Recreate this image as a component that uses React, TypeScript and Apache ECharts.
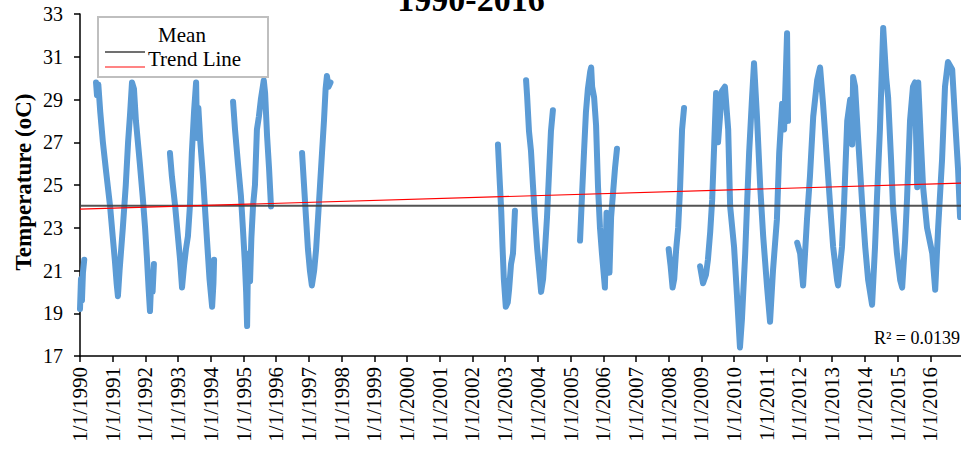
import React, { useEffect, useRef } from "react";
import * as echarts from "echarts";

// decimal year (1990.5 = mid-1990) and daily-ish temperature readings, null = no data
const years: number[] = [
  1990.0, 1990.03, 1990.06, 1990.09, 1990.13, 1990.3,
  1990.49, 1990.52, 1990.56, 1990.62, 1990.7, 1990.8, 1990.92, 1991.0, 1991.07, 1991.12, 1991.16, 1991.21,
  1991.31, 1991.4, 1991.47, 1991.53, 1991.59, 1991.65, 1991.71, 1991.83, 1991.92, 1991.99, 1992.05, 1992.1,
  1992.14, 1992.18, 1992.22, 1992.26, 1992.5,
  1992.75, 1992.81, 1992.91, 1993.0, 1993.06, 1993.12, 1993.18, 1993.24, 1993.3, 1993.36, 1993.42, 1993.49,
  1993.55, 1993.58, 1993.62, 1993.68, 1993.76, 1993.88, 1993.96, 1994.04, 1994.08, 1994.1, 1994.4,
  1994.68, 1994.74, 1994.83, 1994.92, 1994.98, 1995.04, 1995.08, 1995.11, 1995.14, 1995.2, 1995.24, 1995.29,
  1995.35, 1995.41, 1995.47, 1995.53, 1995.62, 1995.66, 1995.72, 1995.78, 1995.84, 1996.3,
  1996.79, 1996.85, 1996.91, 1996.97, 1997.03, 1997.09, 1997.16, 1997.22, 1997.28, 1997.34, 1997.4, 1997.46,
  1997.51, 1997.55, 1997.6, 1997.66, 2000.0,
  2002.78, 2002.84, 2002.88, 2002.92, 2002.96, 2003.02, 2003.08, 2003.12, 2003.18, 2003.24, 2003.3, 2003.45,
  2003.64, 2003.67, 2003.73, 2003.79, 2003.85, 2003.91, 2003.98, 2004.04, 2004.1, 2004.16, 2004.22, 2004.28,
  2004.34, 2004.4, 2004.46, 2004.9,
  2005.29, 2005.35, 2005.41, 2005.47, 2005.53, 2005.6, 2005.63, 2005.66, 2005.72, 2005.78, 2005.84, 2005.9,
  2005.96, 2006.05, 2006.1, 2006.13, 2006.19, 2006.24, 2006.36, 2006.42, 2007.0,
  2008.0, 2008.06, 2008.12, 2008.17, 2008.23, 2008.29, 2008.35, 2008.41, 2008.47, 2008.7,
  2008.96, 2009.05, 2009.14, 2009.2, 2009.27, 2009.33, 2009.39, 2009.45, 2009.51, 2009.63, 2009.72, 2009.82,
  2009.88, 2010.0, 2010.09, 2010.18, 2010.24, 2010.34, 2010.4, 2010.46, 2010.55, 2010.61, 2010.7, 2010.8,
  2010.89, 2011.01, 2011.1, 2011.19, 2011.31, 2011.38, 2011.47, 2011.53, 2011.62, 2011.65, 2011.8,
  2011.93, 2012.02, 2012.11, 2012.17, 2012.23, 2012.32, 2012.42, 2012.54, 2012.63, 2012.72, 2012.84, 2012.94,
  2013.03, 2013.15, 2013.18, 2013.3, 2013.36, 2013.46, 2013.55, 2013.61, 2013.64, 2013.7, 2013.79, 2013.91,
  2014.01, 2014.1, 2014.22, 2014.31, 2014.37, 2014.46, 2014.56, 2014.65, 2014.71, 2014.8, 2014.86, 2014.98,
  2015.08, 2015.14, 2015.23, 2015.29, 2015.38, 2015.47, 2015.53, 2015.6, 2015.63, 2015.72, 2015.78, 2015.9,
  2016.06, 2016.15, 2016.24, 2016.36, 2016.45, 2016.54, 2016.67, 2016.76, 2016.85, 2016.91,
];

const temps: (number | null)[] = [
  19.2, 20.6, 19.6, 20.9, 21.5, null,
  29.8, 29.2, 29.7, 28.4, 27.0, 25.6, 24.0, 22.6, 21.4, 20.4, 19.8, 21.0,
  23.0, 25.0, 27.0, 28.3, 29.8, 29.5, 28.0, 26.0, 24.4, 23.0, 21.5, 20.1,
  19.1, 20.6, 20.0, 21.3, null,
  26.5, 25.4, 24.0, 22.5, 21.5, 20.2, 21.2, 22.0, 22.6, 24.0, 26.5, 28.5,
  29.8, 27.2, 28.6, 27.0, 25.4, 22.5, 20.6, 19.3, 20.4, 21.5, null,
  28.9, 27.6, 26.0, 24.5, 23.0, 21.4, 20.0, 18.4, 21.8, 20.5, 22.5, 24.0,
  25.0, 27.6, 28.2, 29.0, 29.9, 29.3, 27.3, 25.8, 24.0, null,
  26.5, 25.0, 23.5, 22.0, 21.0, 20.3, 21.0, 22.0, 23.5, 25.0, 26.5, 28.0,
  29.5, 30.1, 29.6, 29.8, null,
  26.9, 25.0, 23.8, 22.1, 20.6, 19.3, 19.5, 20.1, 21.3, 21.8, 23.8, null,
  29.9, 29.2, 27.5, 26.6, 25.0, 23.5, 22.0, 21.0, 20.0, 20.6, 22.0, 23.5,
  25.5, 27.5, 28.5, null,
  22.4, 24.5, 26.5, 28.4, 29.5, 30.3, 30.5, 29.6, 29.1, 27.8, 24.9, 23.0,
  21.8, 20.2, 23.7, 21.8, 20.9, 23.5, 25.8, 26.7, null,
  22.0, 21.2, 20.2, 20.6, 22.0, 23.0, 24.9, 27.6, 28.6, null,
  21.2, 20.4, 20.8, 21.5, 22.8, 24.3, 26.8, 29.3, 27.0, 29.4, 29.6, 27.6,
  24.0, 22.1, 19.8, 17.4, 18.7, 21.8, 24.2, 26.5, 29.1, 30.7, 28.2, 24.9,
  22.6, 20.2, 18.6, 21.0, 23.4, 26.5, 28.8, 27.6, 32.1, 28.0, null,
  22.3, 21.8, 20.3, 21.8, 23.4, 25.4, 28.2, 29.9, 30.5, 28.8, 26.2, 24.0,
  22.1, 20.55, 20.3, 22.1, 24.0, 28.0, 29.0, 26.9, 30.05, 29.6, 27.25, 24.3,
  22.1, 20.55, 19.4, 22.1, 24.4, 27.6, 32.35, 30.05, 29.1, 26.2, 24.0, 21.8,
  20.55, 20.2, 22.4, 24.4, 28.0, 29.6, 29.8, 24.9, 29.8, 26.8, 24.9, 23.0,
  21.8, 20.1, 23.0, 26.2, 29.6, 30.75, 30.4, 28.0, 25.7, 23.5,
];

const meanValue = 24.03;
const trendYears = [1990, 2017];
const trendValues = [23.87, 25.09];
const yTicks = { min: 17, max: 33, step: 2 };
const xRange = { min: 1990, max: 2017 };
const titleText = "1990-2016";
const yTitle = "Temperature (oC)";
const legendNames = ["Mean", "Trend Line"];
const r2Text = "R² = 0.0139";

const SERIF = "'Liberation Serif', 'Times New Roman', serif";

export default function App() {
  const ref = useRef<HTMLDivElement>(null);
  useEffect(() => {
    if (!ref.current) return;
    const chart = echarts.init(ref.current, undefined, { renderer: "svg" });
    const tempData = years.map((y, i) => [y, temps[i] === null ? "-" : temps[i]]);
    chart.setOption({
      animation: false,
      backgroundColor: "#ffffff",
      grid: { left: 80, top: 14, width: 883, height: 342, containLabel: false, outerBoundsMode: "none" },
      xAxis: {
        type: "value",
        min: xRange.min,
        max: xRange.max,
        interval: 1,
        axisLine: { show: true, onZero: false, lineStyle: { color: "#000", width: 1.5 } },
        axisTick: { show: true, inside: false, length: 6, lineStyle: { color: "#000", width: 1.5 } },
        splitLine: { show: false },
        axisLabel: {
          rotate: 90,
          margin: 11,
          color: "#000",
          fontFamily: SERIF,
          fontSize: 21,
          showMaxLabel: false,
          formatter: (v: number) => (Math.round(v) >= xRange.max ? "" : `1/1/${Math.round(v)}`),
        },
      },
      yAxis: {
        type: "value",
        min: yTicks.min,
        max: yTicks.max,
        interval: yTicks.step,
        axisLine: { show: true, lineStyle: { color: "#000", width: 1.5 } },
        axisTick: { show: true, inside: false, length: 6, lineStyle: { color: "#000", width: 1.5 } },
        splitLine: { show: false },
        axisLabel: { margin: 17, color: "#000", fontFamily: SERIF, fontSize: 20 },
      },
      series: [
        {
          type: "line",
          data: tempData,
          showSymbol: false,
          symbol: "none",
          connectNulls: false,
          lineStyle: { color: "#5B9BD5", width: 6, cap: "round", join: "round" },
          z: 2,
        },
        {
          type: "line",
          data: [
            [xRange.min, meanValue],
            [xRange.max, meanValue],
          ],
          symbol: "none",
          lineStyle: { color: "#404040", width: 1.8, opacity: 0.9 },
          z: 3,
        },
        {
          type: "line",
          data: trendYears.map((y, i) => [y, trendValues[i]]),
          symbol: "none",
          lineStyle: { color: "#ff0000", width: 1.2 },
          z: 4,
        },
      ],
      graphic: [
        {
          type: "text",
          x: 471,
          y: -1,
          z: 100,
          style: {
            text: titleText,
            fill: "#000",
            font: `bold 34px ${SERIF}`,
            align: "center",
            verticalAlign: "middle",
          },
        },
        {
          type: "text",
          x: 23,
          y: 182,
          rotation: Math.PI / 2,
          z: 100,
          style: {
            text: yTitle,
            fill: "#000",
            font: `bold 23px ${SERIF}`,
            align: "center",
            verticalAlign: "middle",
          },
        },
        {
          type: "rect",
          z: 100,
          shape: { x: 98, y: 17, width: 170, height: 60 },
          style: { fill: "#ffffff", stroke: "#bfbfbf", lineWidth: 2 },
        },
        {
          type: "text",
          x: 182,
          y: 35,
          z: 101,
          style: {
            text: legendNames[0],
            fill: "#000",
            font: `21px ${SERIF}`,
            lineHeight: 20,
            align: "center",
            verticalAlign: "middle",
          },
        },
        {
          type: "line",
          z: 101,
          shape: { x1: 105, y1: 52, x2: 145, y2: 52 },
          style: { stroke: "#404040", lineWidth: 1.5 },
        },
        {
          type: "text",
          x: 148,
          y: 59,
          z: 101,
          style: {
            text: legendNames[1],
            fill: "#000",
            font: `21px ${SERIF}`,
            lineHeight: 20,
            align: "left",
            verticalAlign: "middle",
          },
        },
        {
          type: "line",
          z: 101,
          shape: { x1: 105, y1: 67, x2: 145, y2: 67 },
          style: { stroke: "#ff5b5b", lineWidth: 1.5 },
        },
        {
          type: "text",
          x: 960,
          y: 338,
          z: 100,
          style: { text: r2Text, fill: "#000", font: `18px ${SERIF}`, align: "right", verticalAlign: "middle" },
        },
      ],
    });
    return () => chart.dispose();
  }, []);
  return (
    <div
      ref={ref}
      style={{ position: "fixed", left: 0, top: 0, width: 961, height: 455, background: "#fff" }}
    />
  );
}
